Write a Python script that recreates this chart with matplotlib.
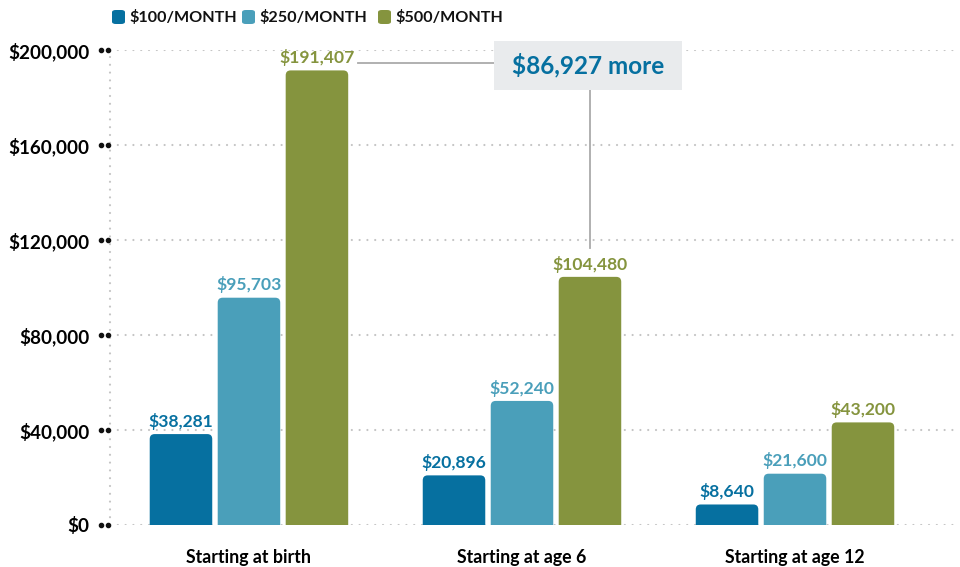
"""
College savings by monthly contribution — grouped bar chart
"""
import matplotlib
matplotlib.use('Agg')
import matplotlib.pyplot as plt
from matplotlib.patches import FancyBboxPatch, Rectangle
import numpy as np

plt.rcParams['font.family'] = ['Lato', 'DejaVu Sans']

# data
categories = ['Starting at birth', 'Starting at age 6', 'Starting at age 12']
series_names = ['$100/MONTH', '$250/MONTH', '$500/MONTH']
vals_100 = [38281, 20896, 8640]
vals_250 = [95703, 52240, 21600]
vals_500 = [191407, 104480, 43200]
y_ticks = [0, 40000, 80000, 120000, 160000, 200000]

# colours
DARK = '#0670a0'
LIGHT = '#4a9fba'
OLIVE = '#85943e'
GRID = '#c4c4c4'
BOXBG = '#e9ebed'
colors = [DARK, LIGHT, OLIVE]
DOTS = (0, (0.01, 3.5))

fig = plt.figure(figsize=(9.6, 5.67), dpi=100)
ax = fig.add_axes([110 / 960, 1 - 525 / 567, 848 / 960, 475 / 567])

x = np.arange(len(categories))
step = 0.249
width = 0.229
series = [vals_100, vals_250, vals_500]

ax.set_xlim(-0.509, 2.597)
ax.set_ylim(0, 200000)

# rounded-top bars: draw with ax.bar, then replace by rounded patches
rad_x = 0.018
rad_y = 2100
for i, (vals, col) in enumerate(zip(series, colors)):
    bars = ax.bar(x + (i - 1) * step, vals, width, color=col, zorder=3)
    for b, v in zip(bars, vals):
        b.set_visible(False)
        bx, bw, bh = b.get_x(), b.get_width(), b.get_height()
        p = FancyBboxPatch((bx + rad_x, -rad_y * 2), bw - 2 * rad_x, bh + rad_y,
                           boxstyle=f'round,pad={rad_x},rounding_size={rad_x}',
                           mutation_aspect=rad_y / rad_x,
                           facecolor=col, edgecolor='none', zorder=3, clip_on=True)
        ax.add_patch(p)
        ax.text(bx + bw / 2, v + 1800, f'${v:,}', ha='center', va='bottom',
                fontsize=12.6, fontweight='bold', color=col, zorder=4)

# grid & axes
for s in ['top', 'right', 'bottom']:
    ax.spines[s].set_visible(False)
ax.spines['left'].set_linestyle(DOTS)
ax.spines['left'].set_color(GRID)
ax.spines['left'].set_linewidth(1.6)
ax.spines['left'].set_capstyle('round')
ax.set_yticks(y_ticks)
ax.set_yticklabels([f'${t:,}' for t in y_ticks], fontsize=13.6, fontweight='bold')
ax.tick_params(axis='y', length=0, pad=15)
ax.set_xticks(x)
ax.set_xticklabels(categories, fontsize=12.8, fontweight='bold')
ax.tick_params(axis='x', length=0, pad=17)
for t in y_ticks:
    ax.axhline(t, color=GRID, lw=1.6, linestyle=DOTS,
               dash_capstyle='round', zorder=1)
ytr = ax.get_yaxis_transform()
ax.plot([-0.0106] * len(y_ticks), y_ticks, 'o', color='#111111', ms=3,
        transform=ytr, clip_on=False, zorder=5)
ax.plot([-0.0024] * len(y_ticks), y_ticks, 'o', color='#111111', ms=3,
        transform=ytr, clip_on=False, zorder=5)

# annotation: difference between $500 at birth and at age 6
diff = vals_500[0] - vals_500[1]
box_x0, box_x1 = 0.897, 1.586
box_y0, box_y1 = 183200, 203800
line_y = 194500
ax.plot([0.399, box_x0], [line_y, line_y], color='#aaaaaa', lw=1.3,
        clip_on=False, zorder=2)
vx = x[1] + step
ax.plot([vx, vx], [box_y0, vals_500[1] + 12000], color='#aaaaaa', lw=1.3,
        clip_on=False, zorder=2)
ax.add_patch(Rectangle((box_x0, box_y0), box_x1 - box_x0, box_y1 - box_y0,
                       facecolor=BOXBG, edgecolor='none', clip_on=False, zorder=4))
ax.text((box_x0 + box_x1) / 2, (box_y0 + box_y1) / 2, f'${diff:,} more',
        ha='center', va='center', fontsize=17.5, fontweight='bold', color=DARK,
        zorder=5)

# legend
leg_x = [112, 242, 378]
for lx, name, col in zip(leg_x, series_names, colors):
    fig.patches.append(FancyBboxPatch((lx / 960, 1 - 24 / 567), 13 / 960, 14 / 567,
                                      boxstyle='round,pad=0,rounding_size=0.004',
                                      transform=fig.transFigure,
                                      facecolor=col, edgecolor='none'))
    fig.text((lx + 17) / 960, 1 - 17 / 567, name, ha='left', va='center',
             fontsize=11.6, fontweight='bold', color='#111111')

fig.savefig('out.png', dpi=100, facecolor='white')
plt.close(fig)
